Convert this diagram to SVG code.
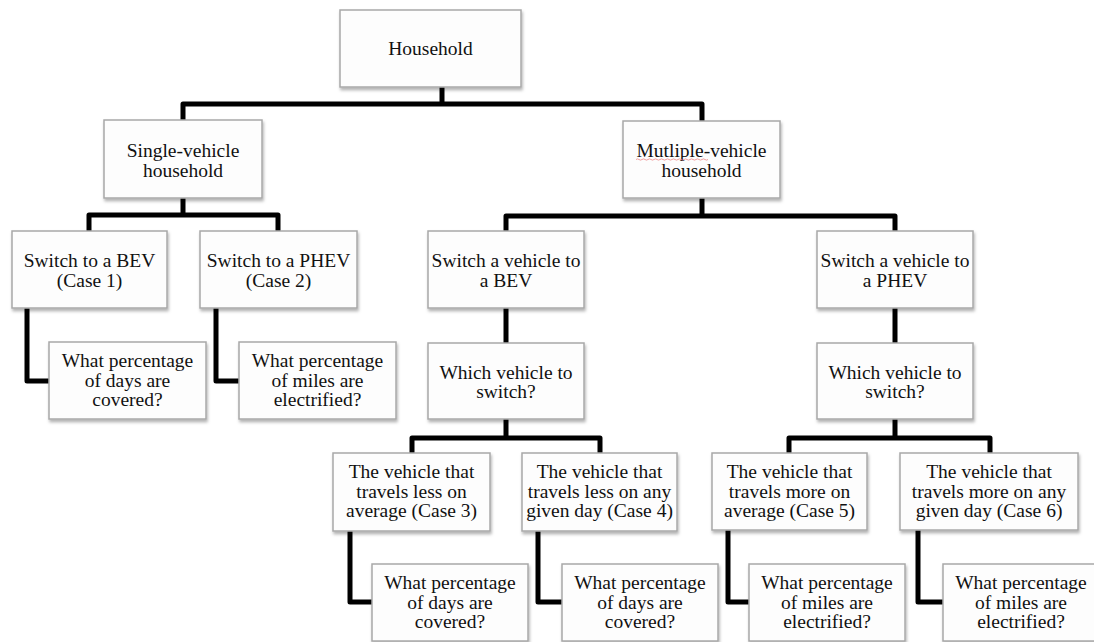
<svg xmlns="http://www.w3.org/2000/svg" width="1094" height="642" viewBox="0 0 1094 642">
<defs>
<filter id="sh" x="-10%" y="-10%" width="125%" height="135%">
<feDropShadow dx="1" dy="2.5" stdDeviation="1.8" flood-color="#000" flood-opacity="0.3"/>
</filter>
<style>
.box{fill:#fdfdfd;stroke:#a8a8a8;stroke-width:1.5;filter:url(#sh)}
.t{font-family:"Liberation Serif","Times New Roman",serif;font-size:19.5px;fill:#111;text-anchor:middle}
.c{fill:none;stroke:#000;stroke-width:5;stroke-linejoin:round;stroke-linecap:butt}
</style>
</defs>
<rect width="1094" height="642" fill="#fff"/>
<g id="connectors">
<path class="c" d="M442,87 V104 M183,120 V104 H702 V121"/>
<path class="c" d="M183,198 V215 M89,231 V215 H278 V231"/>
<path class="c" d="M702,198 V216 M506,231 V216 H895 V231"/>
<path class="c" d="M506,308 V343 M895,308 V343"/>
<path class="c" d="M506,419 V438 M412,453 V438 H600 V453"/>
<path class="c" d="M895,419 V438 M789,453 V438 H990 V453"/>
<path class="c" d="M27,308 V381 H49 M216,308 V381 H239"/>
<path class="c" d="M350,531 V602 H372 M538,531 V602 H562"/>
<path class="c" d="M728,530 V602 H749 M918,530 V602 H943"/>
</g>
<g id="household"><rect class="box" x="340" y="10" width="181" height="77"/><text class="t" x="430.5" y="55">Household</text></g>
<g id="single"><rect class="box" x="104" y="120" width="158" height="78"/><text class="t" x="183" y="157">Single-vehicle</text><text class="t" x="183" y="176.5">household</text></g>
<g id="multiple"><rect class="box" x="623" y="121" width="157" height="77"/><text class="t" x="701.5" y="157">Mutliple-vehicle</text><text class="t" x="701.5" y="176.5">household</text>
<path d="M636,159.5 q1.5,-1.2 3,0 t3,0 t3,0 t3,0 t3,0 t3,0 t3,0 t3,0 t3,0 t3,0 t3,0 t3,0 t3,0 t3,0 t3,0 t3,0 t3,0 t3,0 t3,0 t3,0 t3,0 t3,0 t3,0 t3,0" fill="none" stroke="#e88" stroke-width="0.8"/></g>
<g id="case1"><rect class="box" x="12" y="231" width="155" height="77"/><text class="t" x="89.5" y="267">Switch to a BEV</text><text class="t" x="89.5" y="286.5">(Case 1)</text></g>
<g id="case2"><rect class="box" x="200" y="231" width="157" height="77"/><text class="t" x="278.5" y="267">Switch to a PHEV</text><text class="t" x="278.5" y="286.5">(Case 2)</text></g>
<g id="multi-bev"><rect class="box" x="428" y="231" width="156" height="77"/><text class="t" x="506" y="267">Switch a vehicle to</text><text class="t" x="506" y="286.5">a BEV</text></g>
<g id="multi-phev"><rect class="box" x="817" y="231" width="156" height="77"/><text class="t" x="895" y="267">Switch a vehicle to</text><text class="t" x="895" y="286.5">a PHEV</text></g>
<g id="which-bev"><rect class="box" x="428" y="343" width="156" height="76"/><text class="t" x="506" y="378.5">Which vehicle to</text><text class="t" x="506" y="398">switch?</text></g>
<g id="which-phev"><rect class="box" x="817" y="343" width="156" height="76"/><text class="t" x="895" y="378.5">Which vehicle to</text><text class="t" x="895" y="398">switch?</text></g>
<g id="leaf1"><rect class="box" x="49" y="342" width="157" height="77"/><text class="t" x="127.5" y="367">What percentage</text><text class="t" x="127.5" y="386.5">of days are</text><text class="t" x="127.5" y="406">covered?</text></g>
<g id="leaf2"><rect class="box" x="239" y="342" width="157" height="77"/><text class="t" x="317.5" y="367">What percentage</text><text class="t" x="317.5" y="386.5">of miles are</text><text class="t" x="317.5" y="406">electrified?</text></g>
<g id="case3"><rect class="box" x="333" y="453" width="157" height="78"/><text class="t" x="411.5" y="478">The vehicle that</text><text class="t" x="411.5" y="497.5">travels less on</text><text class="t" x="411.5" y="517">average (Case 3)</text></g>
<g id="case4"><rect class="box" x="522" y="453" width="155" height="78"/><text class="t" x="599.5" y="478">The vehicle that</text><text class="t" x="599.5" y="497.5">travels less on any</text><text class="t" x="599.5" y="517">given day (Case 4)</text></g>
<g id="case5"><rect class="box" x="712" y="453" width="155" height="77"/><text class="t" x="789.5" y="478">The vehicle that</text><text class="t" x="789.5" y="497.5">travels more on</text><text class="t" x="789.5" y="517">average (Case 5)</text></g>
<g id="case6"><rect class="box" x="900" y="453" width="178" height="77"/><text class="t" x="989" y="478">The vehicle that</text><text class="t" x="989" y="497.5">travels more on any</text><text class="t" x="989" y="517">given day (Case 6)</text></g>
<g id="leaf3"><rect class="box" x="372" y="564" width="156" height="77"/><text class="t" x="450" y="589">What percentage</text><text class="t" x="450" y="608.5">of days are</text><text class="t" x="450" y="628">covered?</text></g>
<g id="leaf4"><rect class="box" x="562" y="564" width="156" height="77"/><text class="t" x="640" y="589">What percentage</text><text class="t" x="640" y="608.5">of days are</text><text class="t" x="640" y="628">covered?</text></g>
<g id="leaf5"><rect class="box" x="749" y="564" width="156" height="77"/><text class="t" x="827" y="589">What percentage</text><text class="t" x="827" y="608.5">of miles are</text><text class="t" x="827" y="628">electrified?</text></g>
<g id="leaf6"><rect class="box" x="943" y="564" width="156" height="77"/><text class="t" x="1021" y="589">What percentage</text><text class="t" x="1021" y="608.5">of miles are</text><text class="t" x="1021" y="628">electrified?</text></g>
</svg>
